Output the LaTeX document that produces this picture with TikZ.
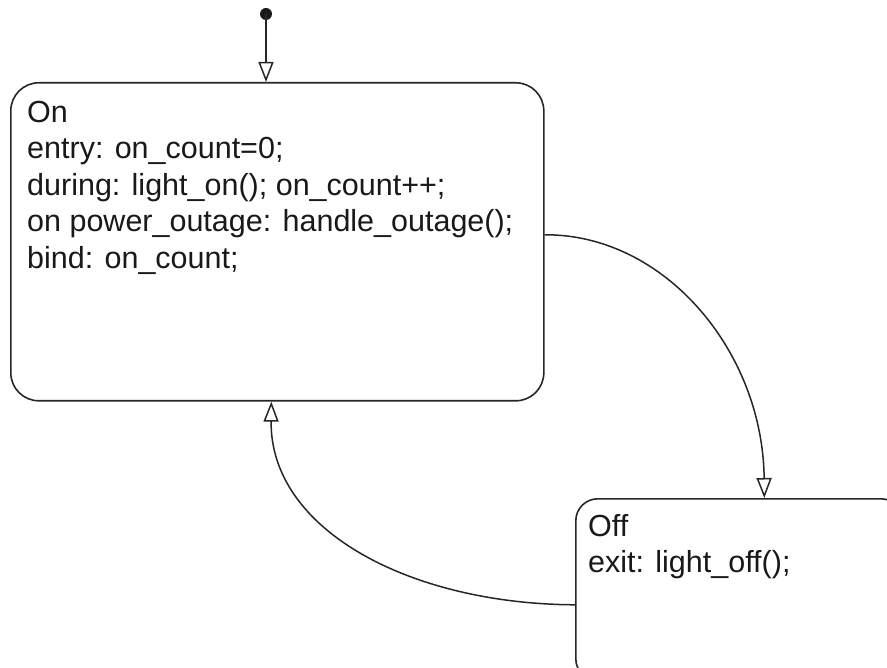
\documentclass[tikz,border=0pt]{standalone}
\usepackage{fontspec}
\setmainfont{Liberation Sans}
\usetikzlibrary{arrows.meta,calc}
\begin{document}
\begin{tikzpicture}[x=1pt,y=-1pt,
  state/.style={draw=black!85, line width=1.6pt, rounded corners=#1, inner sep=0pt, fill=none},
  state/.default=28pt,
  stext/.style={anchor=north west, inner sep=0pt, align=left, font=\fontsize{30.5}{36.5}\selectfont, text=black!90},
  trans/.style={draw=black!85, line width=1.5pt, -{Triangle[open, length=20pt, width=15pt, line width=1.5pt, fill=white]}},
]
\useasboundingbox (0,0) rectangle (887,668);
\clip (0,0) rectangle (887,668);
% states
\node[state, minimum width=533pt, minimum height=318pt, anchor=north west] (On) at (10,82) {};
\node[state=22pt, minimum width=327pt, minimum height=182pt, anchor=north west] (Off) at (575,498) {};
% texts
\node[stext] (OnText) at (27,101) {On\\entry: on\_count=0;\\during: light\_on(); on\_count++;\\on power\_outage: handle\_outage();\\bind: on\_count;};
\node[stext] (OffText) at (588,514) {Off\\exit: light\_off();};
% default transition
\node[circle, fill=black!90, inner sep=0pt, minimum size=12pt] (dflt) at (266,14) {};
\draw[trans] (dflt.center) -- (On.north -| dflt);
% On -> Off
\draw[trans] ($(On.east)+(0,-7)$) .. controls (665,234) and (763,352) .. ($(Off.north)+(25,0)$);
% Off -> On
\draw[trans] ($(Off.west)+(0,15)$) .. controls (410,604) and (270,530) .. ($(On.south)+(-6,0)$);
\end{tikzpicture}
\end{document}
